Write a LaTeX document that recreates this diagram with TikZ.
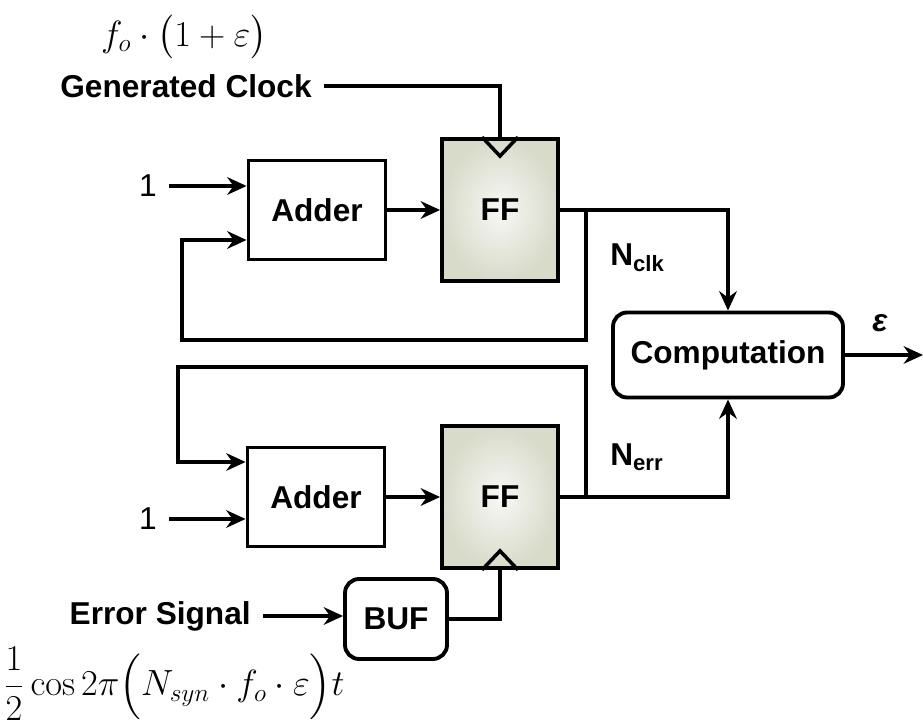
\documentclass[tikz,border=0pt]{standalone}
\usepackage[no-math]{fontspec}
\setmainfont{Liberation Sans}
\usepackage{amsmath}
\usetikzlibrary{positioning,arrows.meta,calc}
\definecolor{ffgray}{RGB}{216,219,202}

\begin{document}
\begin{tikzpicture}[
  x=0.02cm, y=-0.02cm, line width=2pt, line join=miter,
  >={Stealth[length=11pt,width=10pt]},
  font=\fontsize{18}{21}\selectfont\bfseries,
  blk/.style={draw, line width=2.2pt, minimum width=2.74cm, minimum height=1.98cm},
  ffbox/.style={draw, line width=2.2pt, inner color=ffgray!20, outer color=ffgray,
                minimum width=2.32cm, minimum height=2.84cm},
  rnd/.style={draw, line width=2.2pt, rounded corners=8pt},
  lbl/.style={inner xsep=6pt, inner ysep=0pt},
  eqn/.style={inner sep=0pt, font=\fontsize{21}{25}\selectfont\mdseries},
  arr/.style={->},
]
\useasboundingbox (0,0) rectangle (923,722);

% blocks
\node[blk] (addA) at (317,210) {Adder};
\node[ffbox] (ffA) at (500,210) {FF};
\node[blk] (addB) at (316,497) {Adder};
\node[ffbox] (ffB) at (500,497) {FF};
\node[rnd, minimum width=4.6cm, minimum height=1.7cm] (comp) at (728,355) {Computation};
\node[rnd, minimum width=2.04cm, minimum height=1.6cm] (buf) at (396,619) {BUF};

% labels
\node[lbl, anchor=east, font=\fontsize{18}{21}\selectfont\mdseries] (oneA) at (169,186) {1};
\node[lbl, anchor=east, font=\fontsize{18}{21}\selectfont\mdseries] (oneB) at (169,519) {1};
\node[lbl, anchor=east] (genclk) at (324,86) {Generated Clock};
\node[lbl, anchor=east] (errsig) at (263,616) {Error Signal};
\node[lbl, anchor=west] (nclk) at (598,258) {N\textsubscript{clk}};
\node[lbl, anchor=west] (nerr) at (598,457) {N\textsubscript{err}};
\node[lbl] (eps) at (880,323) {\itshape ε};
\node[eqn, font=\fontsize{22}{26}\selectfont] (fclk) at (184,37) {$f_o\cdot\bigl(1+\varepsilon\bigr)$};
\node[eqn, font=\fontsize{20}{24}\selectfont] (ferr) at (174,684) {$\dfrac{1}{2}\cos 2\pi\Bigl(N_{syn}\cdot f_o\cdot\varepsilon\Bigr)t$};

\coordinate (tapA) at (586,210);
\coordinate (fbA) at (182,340);
\coordinate (tapB) at (586,497);
\coordinate (fbB) at (178,367);
\coordinate (out) at (923,355);

% upper counter
\draw[arr] (oneA.east) -- (oneA.east -| addA.west);
\draw[arr] (addA.east) -- (ffA.west);
\draw[arr] (ffA.east) -| (comp.north);
\draw[arr] (tapA) |- (fbA) |- ($(addA.west)+(0,30)$);
\draw (genclk.east) -| (ffA.north);
\draw ($(ffA.north)+(-18,0)$) -- ++(18,19) -- ++(18,-19);

% lower counter
\draw[arr] (oneB.east) -- (oneB.east -| addB.west);
\draw[arr] (addB.east) -- (ffB.west);
\draw[arr] (ffB.east) -| (comp.south);
\draw[arr] (tapB) |- (fbB) |- ($(addB.west)+(0,-35)$);
\draw[arr] (errsig.east) -- (errsig.east -| buf.west);
\draw (buf.east) -| (ffB.south);
\draw ($(ffB.south)+(-18,0)$) -- ++(18,-19) -- ++(18,19);

\draw[arr] (comp.east) -- (out);
\end{tikzpicture}
\end{document}
